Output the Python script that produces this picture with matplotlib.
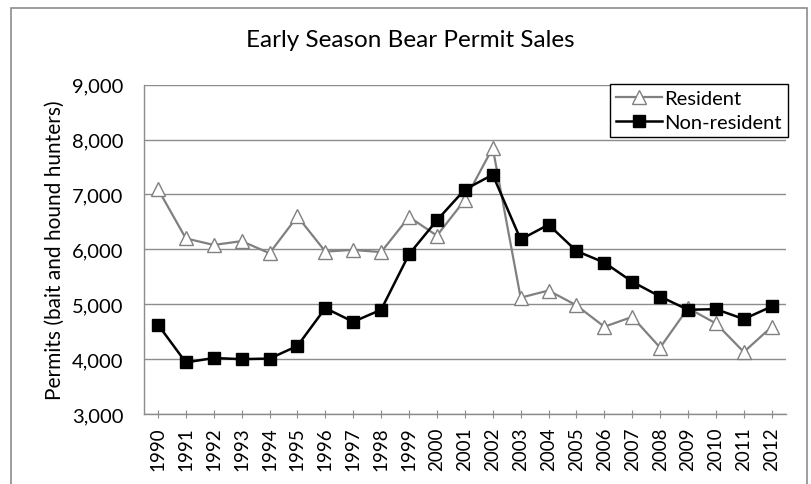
#!/usr/bin/env python3

import matplotlib
matplotlib.use('Agg')
import matplotlib.pyplot as plt
from matplotlib.patches import Rectangle
from matplotlib.ticker import FuncFormatter

years = [str(y) for y in range(1990, 2013)]
resident = [7100, 6200, 6080, 6150, 5930, 6600, 5960, 5990, 5950, 6590, 6250, 6900,
            7850, 5120, 5250, 4980, 4590, 4770, 4210, 4930, 4650, 4130, 4590]
non_resident = [4630, 3940, 4020, 4000, 4010, 4240, 4930, 4680, 4900, 5910, 6530, 7090,
                7360, 6180, 6450, 5970, 5760, 5410, 5140, 4900, 4910, 4730, 4960]

plt.rcParams['font.family'] = ['Lato', 'DejaVu Sans']

fig = plt.figure(figsize=(8.12, 4.85), dpi=100)
ax = fig.add_axes([0.1773, 0.1443, 0.7903, 0.679])

x = list(range(len(years)))
ax.plot(x, resident, '-^', color='#808080', lw=1.6, ms=9.5,
        markerfacecolor='white', markeredgecolor='#808080', markeredgewidth=1.0,
        label='Resident')
ax.plot(x, non_resident, '-s', color='black', lw=1.8, ms=8.5,
        markerfacecolor='black', label='Non-resident')

ax.set_xlim(-0.5, len(years) - 0.5)
ax.set_ylim(3000, 9000)
ax.set_yticks(range(3000, 9001, 1000))
ax.yaxis.set_major_formatter(FuncFormatter(lambda v, p: f'{int(v):,}'))
ax.set_xticks(x)
ax.set_xticklabels(years, rotation=90)

ax.grid(axis='y', color='#8c8c8c', lw=1.0)
ax.set_axisbelow(True)
for s in ['top', 'right']:
    ax.spines[s].set_visible(False)
for s in ['left', 'bottom']:
    ax.spines[s].set_color('#8c8c8c')
    ax.spines[s].set_linewidth(1.0)

ax.tick_params(axis='y', length=0, pad=15, labelsize=14.5)
ax.tick_params(axis='x', direction='inout', length=6, color='#8c8c8c', pad=6, labelsize=13.5)

ax.set_ylabel('Permits (bait and hound hunters)', fontsize=15, labelpad=5)

fig.text(0.5055, 0.9175, 'Early Season Bear Permit Sales', ha='center', va='center', fontsize=17.5)

leg = ax.legend(loc='upper right', bbox_to_anchor=(0.970, 0.825), bbox_transform=fig.transFigure,
                fancybox=False, framealpha=1, edgecolor='black', fontsize=14.5,
                borderpad=0.3, handlelength=2.3, handletextpad=0.1, labelspacing=0.35,
                borderaxespad=0)
leg.get_frame().set_linewidth(1.0)

fig.patches.append(Rectangle((0.0135, -0.1), 0.980, 1.0814, transform=fig.transFigure,
                             fill=False, edgecolor='#8c8c8c', lw=1.2))

fig.savefig('out.png', dpi=100)
